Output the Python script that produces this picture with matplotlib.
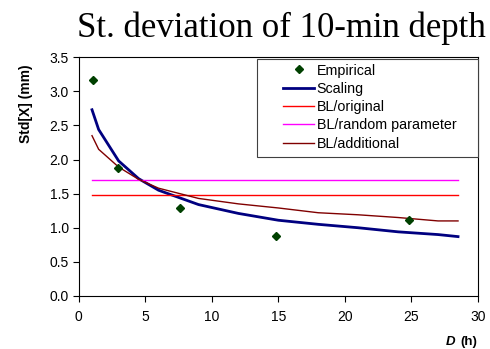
import matplotlib
matplotlib.use("Agg")
import matplotlib.pyplot as plt
from matplotlib.patches import Rectangle
import numpy as np

plt.rcParams['font.family'] = ['Liberation Sans', 'DejaVu Sans']

emp_x = [1.05, 2.97, 7.6, 14.85, 24.8]
emp_y = [3.17, 1.88, 1.29, 0.88, 1.12]

curve_x = [1, 1.5, 3, 4.5, 6, 9, 12, 15, 18, 21, 24, 27, 28.5]
scaling_y = [2.73, 2.44, 1.98, 1.72, 1.55, 1.34, 1.21, 1.11, 1.05, 1.00, 0.94, 0.90, 0.87]
bl_add_y = [2.35, 2.15, 1.89, 1.71, 1.58, 1.43, 1.35, 1.29, 1.22, 1.19, 1.15, 1.10, 1.10]
bl_orig = 1.48
bl_rand = 1.70

W, H = 490, 349
fig = plt.figure(figsize=(4.9, 3.49), dpi=100)
ax = fig.add_axes([0.1606, 0.152, 0.8149, 0.684])

ax.plot(emp_x, emp_y, linestyle='none', marker='D', markersize=4.5,
        color='#004000', label='Empirical', zorder=5)
ax.plot(curve_x, scaling_y, color='#000080', lw=2.0, label='Scaling')
ax.plot([curve_x[0], curve_x[-1]], [bl_orig, bl_orig], color='#ff0000', lw=1.0, label='BL/original')
ax.plot([curve_x[0], curve_x[-1]], [bl_rand, bl_rand], color='#ff00ff', lw=1.0, label='BL/random parameter')
ax.plot(curve_x, bl_add_y, color='#800000', lw=1.0, label='BL/additional')

ax.set_xlim(0, 30)
ax.set_ylim(0, 3.5)
ax.set_xticks(np.arange(0, 31, 5))
ax.set_yticks(np.arange(0, 3.51, 0.5))
ax.set_yticklabels([f'{v:.1f}' for v in np.arange(0, 3.51, 0.5)])
ax.tick_params(direction='out', length=4, width=0.8, labelsize=10)
ax.tick_params(axis='x', pad=6)
ax.tick_params(axis='y', pad=3)
for s in ax.spines.values():
    s.set_linewidth(0.8)
    s.set_color('black')

# legend frame (drawn separately to mimic the wide padding)
frame = Rectangle((257 / W, 1 - 157 / H), (478 - 257) / W, 98 / H,
                  transform=fig.transFigure, facecolor='white',
                  edgecolor='#404040', lw=0.8, zorder=6)
fig.add_artist(frame)

leg = fig.legend(*ax.get_legend_handles_labels(), loc='upper left',
                 bbox_to_anchor=(283 / W, 1 - 63.5 / H),
                 bbox_transform=fig.transFigure, fontsize=10.3,
                 frameon=False, handlelength=2.2, handletextpad=0.15,
                 borderpad=0.0, labelspacing=0.3, borderaxespad=0.0)
leg.set_zorder(7)

fig.text(0.574, 0.895, 'St. deviation of 10-min depth', family='Liberation Serif',
         fontsize=25, ha='center', va='baseline')
fig.text(0.053, 0.702, 'Std[X] (mm)', rotation=90, fontsize=10, fontweight='bold',
         ha='center', va='center')
fig.text(0.929, 0.021, 'D', fontsize=9.5, fontweight='bold', style='italic',
         ha='right', va='center')
fig.text(0.974, 0.021, '(h)', fontsize=9.5, fontweight='bold', ha='right', va='center')

fig.savefig('out.png', dpi=100)
